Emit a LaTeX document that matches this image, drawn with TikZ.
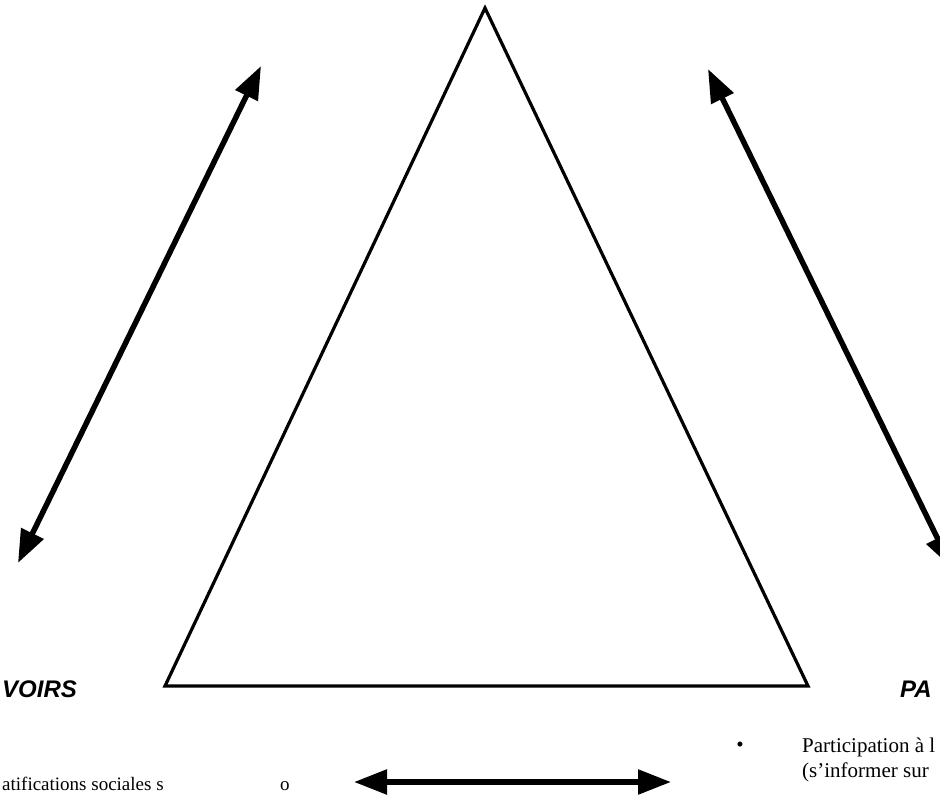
\documentclass[tikz,border=0pt]{standalone}
\usepackage{fontspec}
\setmainfont{Liberation Serif}
\newfontfamily\arialfont{Liberation Sans}
\usetikzlibrary{arrows.meta}
\tikzset{
  tri/.style={line width=3.2pt, line join=miter},
  dblarrow/.style={line width=5.5pt, {Triangle[length=33pt,width=24pt]}-{Triangle[length=33pt,width=24pt]}},
  title/.style={font=\arialfont\bfseries\itshape\fontsize{24}{28}\selectfont, inner sep=0pt},
  body/.style={font=\fontsize{21}{25}\selectfont, inner sep=0pt},
  small/.style={font=\fontsize{19}{22}\selectfont, inner sep=0pt}
}
\begin{document}
\begin{tikzpicture}[x=1pt,y=-1pt]
\useasboundingbox (0,0) rectangle (940,798);
\clip (0,0) rectangle (940,798);
% triangle
\coordinate (apex) at (485,8);
\coordinate (bl) at (165,686);
\coordinate (br) at (808,686);
\draw[tri] (apex) -- (bl) -- (br) -- cycle;
% arrows
\coordinate (la1) at (261,66);
\coordinate (la2) at (18,563);
\draw[dblarrow] (la1) -- (la2);
\coordinate (ra1) at (708,69);
\coordinate (ra2) at (952,568);
\draw[dblarrow] (ra1) -- (ra2);
\coordinate (ba1) at (354,782);
\coordinate (ba2) at (671,782);
\draw[dblarrow] (ba1) -- (ba2);
% labels
\node[title, anchor=base west] (savoirs) at (2,697) {VOIRS};
\node[title, anchor=base west] (partic) at (900,697) {PA};
\node[body, anchor=center] (bullet) at (740,747) {•};
\node[body, anchor=base west] (p1) at (802,752) {Participation à l};
\node[body, anchor=base west] (p2) at (802,777) {(s'informer sur};
\node[small, anchor=base west] (g1) at (2,790) {atifications sociales s};
\node[small, anchor=base west] (o1) at (280,790) {o};
\end{tikzpicture}
\end{document}
